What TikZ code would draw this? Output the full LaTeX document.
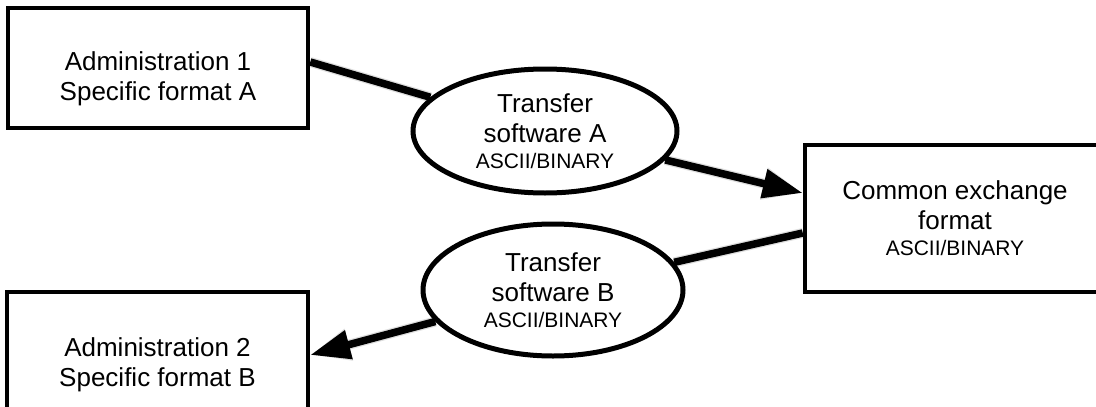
\documentclass[tikz,border=0pt]{standalone}
\usepackage{fontspec}
\setmainfont{Liberation Sans}
\usetikzlibrary{shapes.geometric,arrows.meta,calc}
\pgfdeclarelayer{bg}
\pgfsetlayers{bg,main}
\begin{document}
\begin{tikzpicture}[x=1pt,y=-1pt,
  boxnode/.style={draw=black, line width=4.5pt, fill=white, inner sep=0pt, align=center, font=\fontsize{26}{30}\selectfont},
  ellnode/.style={ellipse, draw=black, line width=5pt, fill=white, inner sep=0pt, align=center, font=\fontsize{26}{30}\selectfont},
  conn/.style={line width=7.5pt, draw=black},
  arr/.style={conn, -{Triangle[length=40pt,width=28pt]}},
  shadowline/.style={line width=10pt, draw=black, opacity=0.13},
  shadowarr/.style={shadowline, -{Triangle[length=40pt,width=30pt]}}]
\useasboundingbox (0,0) rectangle (1096,407);
\clip (0,0) rectangle (1096,407);

\node[boxnode, minimum width=300pt, minimum height=120pt, text height=70pt] (adm1) at (158,68) {Administration 1\\Specific format A};
\node[boxnode, minimum width=301pt, minimum height=146pt] (adm2) at (157.5,365) {Administration 2\\Specific format B};
\node[boxnode, minimum width=300pt, minimum height=147pt] (cef) at (955,218.5) {Common exchange\\format\\[-4pt]{\fontsize{21}{25}\selectfont ASCII/BINARY}};
\node[ellnode, minimum width=264pt, minimum height=124pt] (eA) at (545,131) {Transfer\\software A\\[-4pt]{\fontsize{21}{25}\selectfont ASCII/BINARY}};
\node[ellnode, minimum width=260pt, minimum height=132pt] (eB) at (553,290) {Transfer\\software B\\[-4pt]{\fontsize{21}{25}\selectfont ASCII/BINARY}};

\begin{pgfonlayer}{bg}
  \begin{scope}[yshift=-5pt, xshift=1pt]
    \draw[shadowline] ([yshift=6pt]adm1.east) -- (eA);
    \draw[shadowarr] (eA) -- ([yshift=25.5pt]cef.west);
    \draw[shadowline] ([yshift=-14.5pt]cef.west) -- (eB);
    \draw[shadowarr] (eB) -- ([yshift=10pt]adm2.east);
  \end{scope}
  \draw[conn] ([yshift=6pt]adm1.east) -- (eA);
  \draw[arr] (eA) -- ([yshift=25.5pt]cef.west);
  \draw[conn] ([yshift=-14.5pt]cef.west) -- (eB);
  \draw[arr] (eB) -- ([yshift=10pt]adm2.east);
\end{pgfonlayer}
\end{tikzpicture}
\end{document}
